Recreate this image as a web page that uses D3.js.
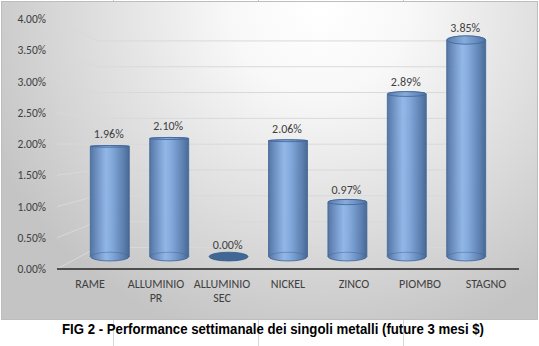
<!DOCTYPE html>
<html><head><meta charset="utf-8">
<script src="https://cdn.jsdelivr.net/npm/d3@7"></script>
<style>body{margin:0;background:#fff}svg{display:block}</style>
</head><body>
<script>
// ---- data ----
const categories = ["RAME", "ALLUMINIO PR", "ALLUMINIO SEC", "NICKEL", "ZINCO", "PIOMBO", "STAGNO"];
const values = [1.96, 2.10, 0.00, 2.06, 0.97, 2.89, 3.85]; // percent
const yTicks = [0, 0.5, 1, 1.5, 2, 2.5, 3, 3.5, 4];
const title = "FIG 2 - Performance settimanale dei singoli metalli (future 3 mesi $)";

const W = 539, H = 346;
const FONT = "Carlito, Lato, sans-serif";
const svg = d3.select("body").append("svg").attr("width", W).attr("height", H);
const defs = svg.append("defs");

// background
const bg = defs.append("radialGradient").attr("id", "bg").attr("gradientUnits", "userSpaceOnUse")
  .attr("cx", 320).attr("cy", 10).attr("r", 360)
  .attr("gradientTransform", "translate(320,10) scale(1,0.95) translate(-320,-10)");
[[0, "#ffffff"], [0.25, "#f8f8f8"], [0.7, "#d9d9d9"], [1, "#c4c4c4"]].forEach(([o, c]) =>
  bg.append("stop").attr("offset", o).attr("stop-color", c));

const cyl = defs.append("linearGradient").attr("id", "cyl").attr("x1", 0).attr("x2", 1).attr("y1", 0).attr("y2", 0);
[[0, "#4a6c9c"], [0.12, "#5d83b8"], [0.4, "#8cb4e8"], [0.55, "#7da6dc"], [0.85, "#5279ad"], [1, "#3d5f8e"]].forEach(([o, c]) =>
  cyl.append("stop").attr("offset", o).attr("stop-color", c));
const cylTop = defs.append("linearGradient").attr("id", "cylTop").attr("x1", 0).attr("x2", 1).attr("y1", 0).attr("y2", 0);
[[0, "#5a7bab"], [0.45, "#87acdc"], [1, "#4f73a5"]].forEach(([o, c]) =>
  cylTop.append("stop").attr("offset", o).attr("stop-color", c));

// cell grid lines of the sheet
[113, 258, 403].forEach(x => {
  svg.append("line").attr("x1", x + 0.5).attr("x2", x + 0.5).attr("y1", 320).attr("y2", H).attr("stroke", "#d6d6d6");
  svg.append("line").attr("x1", x + 0.5).attr("x2", x + 0.5).attr("y1", 0).attr("y2", 2).attr("stroke", "#c8c8c8");
});

svg.append("rect").attr("x", 1.5).attr("y", 1.5).attr("width", 536).attr("height", 318)
  .attr("fill", "url(#bg)").attr("stroke", "#bdbdbd");

// scales (front plane)
const x = d3.scaleBand().domain(categories).range([57, 519]).paddingInner(0.344).paddingOuter(0.172);
const y = d3.scaleLinear().domain([0, 4]).range([269, 19]);

// perspective
const vx = 288, vy = 145, kBar = 0.9, kBack = 0.826;
const P = (xf, yf, k) => [vx + k * (xf - vx), vy + k * (yf - vy)];
const ryAt = yy => 0.8 + 0.032 * Math.abs(yy - vy);

// gridlines: side wall + back wall
const grid = svg.append("g");
yTicks.forEach(t => {
  const f = [57, y(t)];
  const bl = P(57, y(t), kBack);
  const br = P(519, y(t), kBack);
  grid.append("polyline").attr("points", [f, bl, br].map(p => p.join(",")).join(" "))
    .attr("fill", "none").attr("stroke", "#d9d9d9").attr("stroke-width", 1);
});

// y axis labels
const yAxis = d3.axisLeft(y).tickValues(yTicks).tickFormat(d => d.toFixed(2) + "%").tickSize(0).tickPadding(0);
const ya = svg.append("g").attr("transform", "translate(46,0)").call(yAxis);
ya.select(".domain").remove();
ya.selectAll("text").attr("font-family", FONT).attr("font-size", 11.5).attr("fill", "#404040");

// axis line
svg.append("line").attr("x1", 57).attr("x2", 519).attr("y1", y(0)).attr("y2", y(0))
  .attr("stroke", "#4d4d4d").attr("stroke-width", 2);

// cylinders
const bars = svg.append("g");
categories.forEach((c, i) => {
  const v = values[i];
  const cxF = x(c) + x.bandwidth() / 2;
  const cx = P(cxF, 0, kBar)[0];
  const rx = kBar * x.bandwidth() / 2;
  const yb = P(0, y(0), kBar)[1];
  const yt = P(0, y(v), kBar)[1];
  const ryb = ryAt(yb), ryt = ryAt(yt);
  if (v === 0) {
    bars.append("ellipse").attr("cx", cx).attr("cy", yb).attr("rx", rx).attr("ry", ryb)
      .attr("fill", "#416795").attr("stroke", "#36598a").attr("stroke-width", 0.8);
  } else {
    bars.append("path")
      .attr("d", `M${cx - rx},${yt} L${cx - rx},${yb} A${rx},${ryb} 0 0 0 ${cx + rx},${yb} L${cx + rx},${yt} A${rx},${ryt} 0 0 0 ${cx - rx},${yt} Z`)
      .attr("fill", "url(#cyl)").attr("fill-opacity", 0.92).attr("stroke", "#3f6599").attr("stroke-width", 0.8);
    bars.append("path")
      .attr("d", `M${cx - rx},${yb} A${rx},${ryb} 0 0 1 ${cx + rx},${yb}`)
      .attr("fill", "none").attr("stroke", "#3f6599").attr("stroke-opacity", 0.6).attr("stroke-width", 0.8);
    bars.append("ellipse").attr("cx", cx).attr("cy", yt).attr("rx", rx).attr("ry", ryt)
      .attr("fill", "url(#cylTop)").attr("stroke", "#3f6599").attr("stroke-width", 0.8);
  }
  svg.append("text").attr("x", cx - 1).attr("y", yt - 8).attr("text-anchor", "middle")
    .attr("font-family", FONT).attr("font-size", 12).attr("fill", "#404040")
    .text(v.toFixed(2) + "%");
});

// category labels
const xAxis = d3.axisBottom(x).tickSize(0).tickPadding(0);
const xa = svg.append("g").attr("transform", `translate(0,${y(0)})`).call(xAxis);
xa.select(".domain").remove();
xa.selectAll("text").each(function(d) {
  const t = d3.select(this);
  const parts = d.split(" ");
  t.text(null).attr("y", 0).attr("dy", 0);
  parts.forEach((p, j) => t.append("tspan").attr("x", 0).attr("y", 19 + j * 14).text(p));
}).attr("font-family", FONT).attr("font-size", 12).attr("fill", "#404040");

// title
svg.append("text").attr("x", 273).attr("y", 334).attr("text-anchor", "middle")
  .attr("font-family", "Liberation Sans, Arial, sans-serif").attr("font-weight", "bold").attr("font-size", 14)
  .attr("textLength", 422).attr("lengthAdjust", "spacingAndGlyphs").attr("fill", "#000")
  .text(title);
</script>
</body></html>
